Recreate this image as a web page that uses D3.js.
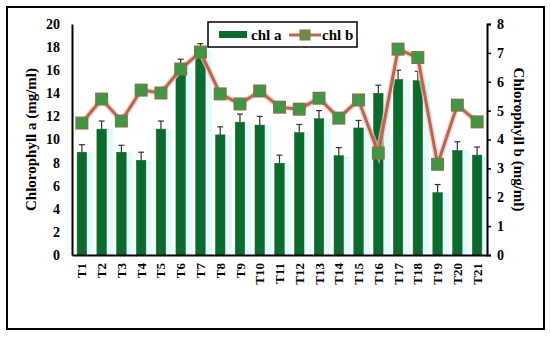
<!DOCTYPE html>
<html>
<head>
<meta charset="utf-8">
<script src="https://cdn.jsdelivr.net/npm/d3@7"></script>
<style>
  body { margin: 0; background: #fff; }
  text { font-family: "Liberation Serif", "Times New Roman", serif; font-weight: bold; }
</style>
</head>
<body>
<div id="chart"></div>
<script>
// treatments
var treatments = ["T1","T2","T3","T4","T5","T6","T7","T8","T9","T10","T11","T12","T13","T14","T15","T16","T17","T18","T19","T20","T21"];
// chlorophyll a (left axis) and its error
var chlA = [8.9, 10.9, 8.9, 8.2, 10.9, 16.3, 17.7, 10.4, 11.5, 11.25, 7.95, 10.6, 11.8, 8.6, 11.0, 14.0, 15.2, 15.1, 5.4, 9.05, 8.65];
var chlAErr = [0.65, 0.7, 0.6, 0.7, 0.7, 0.65, 0.6, 0.7, 0.7, 0.75, 0.7, 0.7, 0.7, 0.7, 0.65, 0.7, 0.8, 0.8, 0.7, 0.75, 0.7];
// chlorophyll b (right axis)
var chlB = [4.57, 5.4, 4.64, 5.71, 5.61, 6.44, 7.03, 5.58, 5.23, 5.68, 5.12, 5.05, 5.43, 4.74, 5.37, 3.53, 7.13, 6.84, 3.14, 5.19, 4.61];
var leftTicks = [0, 2, 4, 6, 8, 10, 12, 14, 16, 18, 20];
var rightTicks = [0, 1, 2, 3, 4, 5, 6, 7, 8];

var W = 550, H = 338;
var margin = { top: 24, right: 63, bottom: 83, left: 72 };
var w = W - margin.left - margin.right;
var h = H - margin.top - margin.bottom;

var svg = d3.select('#chart').append('svg')
  .attr('width', W).attr('height', H);

// outer frame
svg.append('rect')
  .attr('x', 7).attr('y', 7).attr('width', 537).attr('height', 322)
  .attr('fill', 'none').attr('stroke', '#000').attr('stroke-width', 2);

var g = svg.append('g')
  .attr('transform', 'translate(' + margin.left + ',' + margin.top + ')');

var x = d3.scaleBand().domain(treatments).range([0, w]).paddingInner(0.52).paddingOuter(0.26);
var yA = d3.scaleLinear().domain([0, 20]).range([h, 0]);
var yB = d3.scaleLinear().domain([0, 8]).range([h, 0]);

// light cyan shading beside the bars
g.append('g').selectAll('rect')
  .data(chlA).enter().append('rect')
  .attr('x', function (d, i) { return x(treatments[i]) + x.bandwidth(); })
  .attr('y', function (d) { return yA(d); })
  .attr('width', 7)
  .attr('height', function (d) { return h - yA(d); })
  .attr('fill', '#e2fcfb');

// bars
g.append('g').selectAll('rect')
  .data(chlA).enter().append('rect')
  .attr('x', function (d, i) { return x(treatments[i]); })
  .attr('y', function (d) { return yA(d); })
  .attr('width', x.bandwidth())
  .attr('height', function (d) { return h - yA(d); })
  .attr('fill', '#0b6b2c')
  .attr('stroke', '#1f5a2e').attr('stroke-width', 0.5);

// error bars
var eb = g.append('g').attr('stroke', '#333').attr('stroke-width', 1.2);
chlA.forEach(function (d, i) {
  var cx = x(treatments[i]) + x.bandwidth() / 2;
  eb.append('line').attr('x1', cx).attr('x2', cx)
    .attr('y1', yA(d)).attr('y2', yA(d + chlAErr[i]));
  eb.append('line').attr('x1', cx - 3).attr('x2', cx + 3)
    .attr('y1', yA(d + chlAErr[i])).attr('y2', yA(d + chlAErr[i]));
});

// chl b line
var line = d3.line()
  .x(function (d, i) { return x(treatments[i]) + x.bandwidth() / 2; })
  .y(function (d) { return yB(d); });
g.append('path').datum(chlB)
  .attr('d', line).attr('fill', 'none')
  .attr('stroke', '#f3c6c6').attr('stroke-width', 6).attr('opacity', 0.7);
g.append('path').datum(chlB)
  .attr('d', line).attr('fill', 'none')
  .attr('stroke', '#b8664d').attr('stroke-width', 3);

// markers
g.append('g').selectAll('rect')
  .data(chlB).enter().append('rect')
  .attr('x', function (d, i) { return x(treatments[i]) + x.bandwidth() / 2 - 5.5; })
  .attr('y', function (d) { return yB(d) - 5.5; })
  .attr('width', 11).attr('height', 11)
  .attr('fill', '#3c9a46')
  .attr('stroke', '#6e7f46').attr('stroke-width', 2);

// axes
var axL = g.append('g')
  .call(d3.axisLeft(yA).tickValues(leftTicks).tickSize(0).tickPadding(12));
axL.select('.domain').attr('stroke', '#000').attr('stroke-width', 2);
axL.selectAll('text').attr('font-size', 14).attr('fill', '#000')
  .style('font-family', '"Liberation Serif", serif').style('font-weight', 'bold');

var axR = g.append('g').attr('transform', 'translate(' + w + ',0)')
  .call(d3.axisRight(yB).tickValues(rightTicks).tickSize(4).tickPadding(6).tickSizeOuter(4));
axR.select('.domain').attr('stroke', '#000').attr('stroke-width', 2);
axR.selectAll('line').attr('stroke', '#000').attr('stroke-width', 1.5);
axR.selectAll('text').attr('font-size', 14).attr('fill', '#000')
  .style('font-family', '"Liberation Serif", serif').style('font-weight', 'bold');

var axX = g.append('g').attr('transform', 'translate(0,' + h + ')')
  .call(d3.axisBottom(x).tickSize(0).tickPadding(0));
axX.select('.domain').attr('stroke', '#000').attr('stroke-width', 2);
axX.selectAll('text')
  .attr('font-size', 13).attr('fill', '#000')
  .style('font-family', '"Liberation Serif", serif').style('font-weight', 'bold')
  .attr('transform', 'rotate(-90)')
  .attr('x', -8).attr('y', 0).attr('dy', '0.35em')
  .attr('text-anchor', 'end');

// axis titles
svg.append('text')
  .attr('transform', 'translate(31,' + (margin.top + h / 2) + ') rotate(-90)')
  .attr('text-anchor', 'middle').attr('dy', '0.35em')
  .attr('font-size', 15).attr('fill', '#000')
  .text('Chlorophyll  a (mg/ml)');
svg.append('text')
  .attr('transform', 'translate(519,' + (margin.top + h / 2) + ') rotate(90)')
  .attr('text-anchor', 'middle').attr('dy', '0.35em')
  .attr('font-size', 15).attr('fill', '#000')
  .text('Chlorophyll  b (mg/ml)');

// legend
var lg = svg.append('g').attr('transform', 'translate(208,22)');
lg.append('rect').attr('width', 149).attr('height', 25)
  .attr('fill', '#fff').attr('stroke', '#000').attr('stroke-width', 1.5);
lg.append('rect').attr('x', 11).attr('y', 9).attr('width', 28).attr('height', 7)
  .attr('fill', '#0b6b2c');
lg.append('text').attr('x', 43).attr('y', 13).attr('dy', '0.35em')
  .attr('font-size', 15).attr('fill', '#000').text('chl a');
lg.append('line').attr('x1', 81).attr('x2', 113).attr('y1', 13).attr('y2', 13)
  .attr('stroke', '#b8664d').attr('stroke-width', 3);
lg.append('rect').attr('x', 92).attr('y', 8).attr('width', 10).attr('height', 10)
  .attr('fill', '#6e8b4a').attr('stroke', '#6e7f46');
lg.append('text').attr('x', 114).attr('y', 13).attr('dy', '0.35em')
  .attr('font-size', 15).attr('fill', '#000').text('chl b');
</script>
</body>
</html>
